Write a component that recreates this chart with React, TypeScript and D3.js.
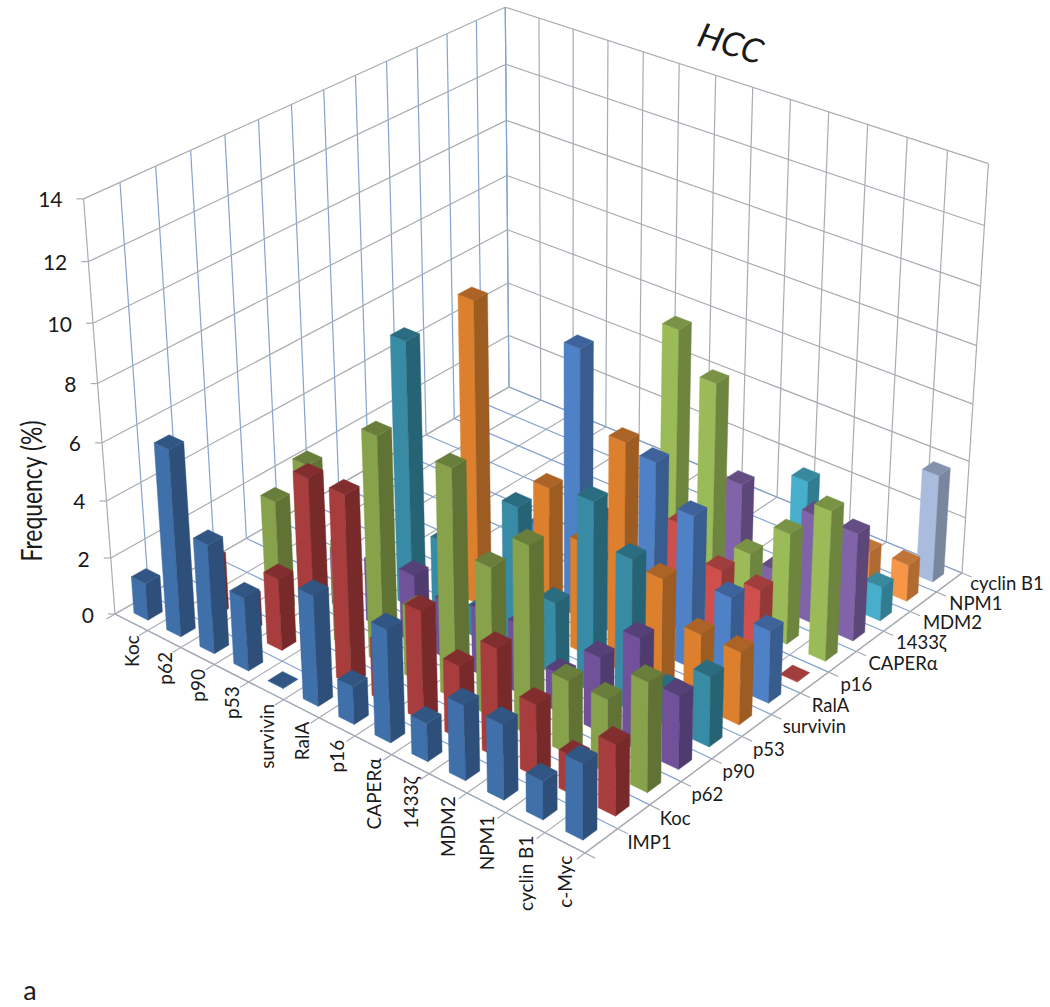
import React from 'react';
import * as d3 from 'd3';

// depth axis (front to back) and category axis (left to front)
const depthLabels = ['IMP1', 'Koc', 'p62', 'p90', 'p53', 'survivin', 'RalA', 'p16', 'CAPERα', '1433ζ', 'MDM2', 'NPM1', 'cyclin B1'];
const catLabels = ['Koc', 'p62', 'p90', 'p53', 'survivin', 'RalA', 'p16', 'CAPERα', '1433ζ', 'MDM2', 'NPM1', 'cyclin B1', 'c-Myc'];
const zTicks = [0, 2, 4, 6, 8, 10, 12, 14];

// each row starts at the column with the same index as the row (triangular table)
const imp1 = [1.3, 6.5, 3.8, 2.55, 0.02, 3.8, 1.3, 3.85, 1.3, 2.55, 2.55, 1.3, 2.55];
const koc = [2, 1.2, 2.5, 6.5, 6.5, 2, 3.75, 2.5, 3.7, 2.45, 1.3, 2.4];
const p62 = [3.95, 5.75, 3.5, 7.8, 2.45, 7.8, 5.1, 6.4, 2.5, 2.5, 3.7];
const p90 = [2, 2.2, 2.4, 2, 2.3, 2.4, 1.35, 2.55, 3.8, 2.5];
const p53 = [9.2, 2.85, 1, 5.2, 2.5, 6.5, 5.15, 1.3, 2.4];
const survivin = [10.45, 1.5, 5.2, 3.85, 7.8, 3.8, 2.5, 2.5];
const ralA = [2.6, 9.25, 2.5, 6.5, 5.25, 3.05, 2.5];
const p16 = [2.7, 2, 3.7, 2.7, 2.6, 0.02];
const caper = [9.2, 7.9, 2.6, 3.85, 5.2];
const z1433 = [3.8, 1.3, 3.8, 3.75];
const mdm2 = [3.8, 1.5, 1.2];
const npm1 = [1.2, 1.3];
const cyclinB1 = [3.8];
const rows = [imp1, koc, p62, p90, p53, survivin, ralA, p16, caper, z1433, mdm2, npm1, cyclinB1];

// left face colour per row
const rowColors = ['#3f70aa', '#a83c3c', '#87a24c', '#70519a', '#388ba4', '#dc802f', '#4f81c6', '#cf4f4e', '#9bbb59', '#8064a8', '#47aecb', '#f79646', '#a9bcde'];

// frame of the chart: corners of the floor, then tops of the three back edges
const L = [115, 614], F = [585, 853], R = [962, 573], B = [509, 387];
const tops = [
  { u: 0, v: 0, x: 83, y: 200 },
  { u: 0, v: 1, x: 507, y: 5 },
  { u: 1, v: 1, x: 987, y: 165 },
];

const dx1 = F[0] - R[0], dx2 = B[0] - R[0], sx = L[0] - F[0] + R[0] - B[0];
const dy1 = F[1] - R[1], dy2 = B[1] - R[1], sy = L[1] - F[1] + R[1] - B[1];
const den = dx1 * dy2 - dx2 * dy1;
const g = (sx * dy2 - dx2 * sy) / den;
const h = (dx1 * sy - sx * dy1) / den;
const a = F[0] - L[0] + g * F[0], b = B[0] - L[0] + h * B[0];
const d = F[1] - L[1] + g * F[1], e = B[1] - L[1] + h * B[1];

const floor = (u: number, v: number) => [a * u + b * v + L[0], d * u + e * v + L[1], g * u + h * v + 1];

// vertical direction, least squares fit on the three top corners
let stx = 0, sty = 0, srx = 0, sry = 0, ss = 0, sp = 0;
tops.forEach(t => {
  const [X, Y, W] = floor(t.u, t.v);
  const rx = t.x * W - X, ry = t.y * W - Y;
  stx += t.x; sty += t.y; srx += rx; sry += ry;
  ss += t.x * t.x + t.y * t.y;
  sp += t.x * rx + t.y * ry;
});
const n = tops.length;
const cw = (-sp + (stx * srx + sty * sry) / n) / (ss - (stx * stx + sty * sty) / n);
const cx = (srx + stx * cw) / n;
const cy = (sry + sty * cw) / n;

const uScale = d3.scaleLinear().domain([0, catLabels.length]).range([0, 1]);
const vScale = d3.scaleLinear().domain([0, depthLabels.length]).range([0, 1]);
const zScale = d3.scaleLinear().domain([0, 14]).range([0, 1]);

const project = (col: number, row: number, val: number): [number, number] => {
  const [X, Y, W] = floor(uScale(col), vScale(row));
  const z = zScale(val);
  const w = W + z * cw;
  return [(X + z * cx) / w, (Y + z * cy) / w];
};

const line = d3.line();
const poly = (pts: [number, number][]) => line(pts) + 'Z';
const half = 0.215;

const gray = '#a9acb2';
const blue = '#86a3cf';
const font = 'Lato, "Open Sans", sans-serif';

const App = () => {
  const cols = d3.range(catLabels.length + 1);
  const deps = d3.range(depthLabels.length + 1);
  const nc = catLabels.length, nd = depthLabels.length;

  const bars: React.ReactNode[] = [];
  for (let i = nd - 1; i >= 0; i--) {
    rows[i].forEach((val, k) => {
      const j = i + k;
      const c = j + 0.5, r = i + 0.5;
      const p = (dc: number, dr: number, z: number) => project(c + dc * half, r + dr * half, z);
      const base = d3.color(rowColors[i])!;
      bars.push(
        <g key={`${i}-${j}`}>
          <path d={poly([p(-1, -1, 0), p(1, -1, 0), p(1, -1, val), p(-1, -1, val)])} fill={base.formatHex()} stroke={base.formatHex()} strokeWidth={0.4} />
          <path d={poly([p(1, -1, 0), p(1, 1, 0), p(1, 1, val), p(1, -1, val)])} fill={base.darker(0.95).formatHex()} stroke={base.darker(0.95).formatHex()} strokeWidth={0.4} />
          <path d={poly([p(-1, -1, val), p(1, -1, val), p(1, 1, val), p(-1, 1, val)])} fill={base.darker(0.7).formatHex()} stroke={base.darker(0.7).formatHex()} strokeWidth={0.4} />
        </g>
      );
    });
  }

  return (
    <svg width={1050} height={1007} style={{ position: 'absolute', left: 0, top: 0 }}>
      <defs>
        <filter id="soft"><feGaussianBlur stdDeviation={0.5} /></filter>
      </defs>
      <g fill="none" strokeWidth={1.2} filter="url(#soft)">
        {/* left wall */}
        {deps.map(v => <path key={`lw${v}`} d={line([project(0, v, 0), project(0, v, 14)])!} stroke={v === 0 ? gray : blue} />)}
        {zTicks.map(z => <path key={`lh${z}`} d={line([project(0, 0, z), project(0, nd, z)])!} stroke={gray} />)}
        {/* right wall */}
        {cols.map(u => <path key={`rw${u}`} d={line([project(u, nd, 0), project(u, nd, 14)])!} stroke={u === 0 ? blue : gray} />)}
        {zTicks.map(z => <path key={`rh${z}`} d={line([project(0, nd, z), project(nc, nd, z)])!} stroke={gray} />)}
        {/* floor */}
        {cols.map(u => <path key={`fu${u}`} d={line([project(u, 0, 0), project(u, nd, 0)])!} stroke={gray} />)}
        {deps.map(v => <path key={`fv${v}`} d={line([project(0, v, 0), project(nc, v, 0)])!} stroke={blue} />)}
        {/* axis edges and ticks */}
        <path d={line([project(0, 0, 0), project(nc, 0, 0), project(nc, nd, 0)])!} stroke={gray} />
        {cols.map(u => <path key={`tu${u}`} d={line([project(u, 0, 0), project(u, -0.25, 0)])!} stroke={gray} />)}
        {deps.map(v => <path key={`tv${v}`} d={line([project(nc, v, 0), project(nc + 0.25, v, 0)])!} stroke={gray} />)}
        {zTicks.map(z => {
          const [x, y] = project(0, 0, z);
          return <path key={`tz${z}`} d={line([[x - 7, y], [x, y]])!} stroke={gray} />;
        })}
      </g>

      <g filter="url(#soft)">{bars}</g>

      <g fontFamily={font} fill="#1a1a1a">
        {zTicks.map(z => {
          const [x, y] = project(0, 0, z);
          return <text key={z} x={x - 21} y={y} fontSize={21} textAnchor="end" dominantBaseline="central">{z}</text>;
        })}
        {catLabels.map((t, j) => {
          const [x, y] = project(j + 0.5, 0, 0);
          return <text key={t} transform={`translate(${x},${y + 13}) rotate(-90)`} fontSize={19} textAnchor="end" dominantBaseline="central">{t}</text>;
        })}
        {depthLabels.map((t, i) => {
          const [x, y] = project(nc, i + 0.5, 0);
          // last label sits closer to the axis end, as in the picture
          return <text key={t} x={x + (i === nd - 1 ? 21 : 26)} y={y + 1} fontSize={18.5} dominantBaseline="central">{t}</text>;
        })}
        <text transform="translate(42,491) rotate(-90)" fontSize={28} textAnchor="middle" textLength={141} lengthAdjust="spacingAndGlyphs">Frequency (%)</text>
        <text transform="translate(731,42) rotate(17)" fontSize={34} fontStyle="italic" textAnchor="middle" dominantBaseline="central">HCC</text>
        <text x={30} y={1000} fontSize={27} textAnchor="middle">a</text>
      </g>
    </svg>
  );
};

export default App;
